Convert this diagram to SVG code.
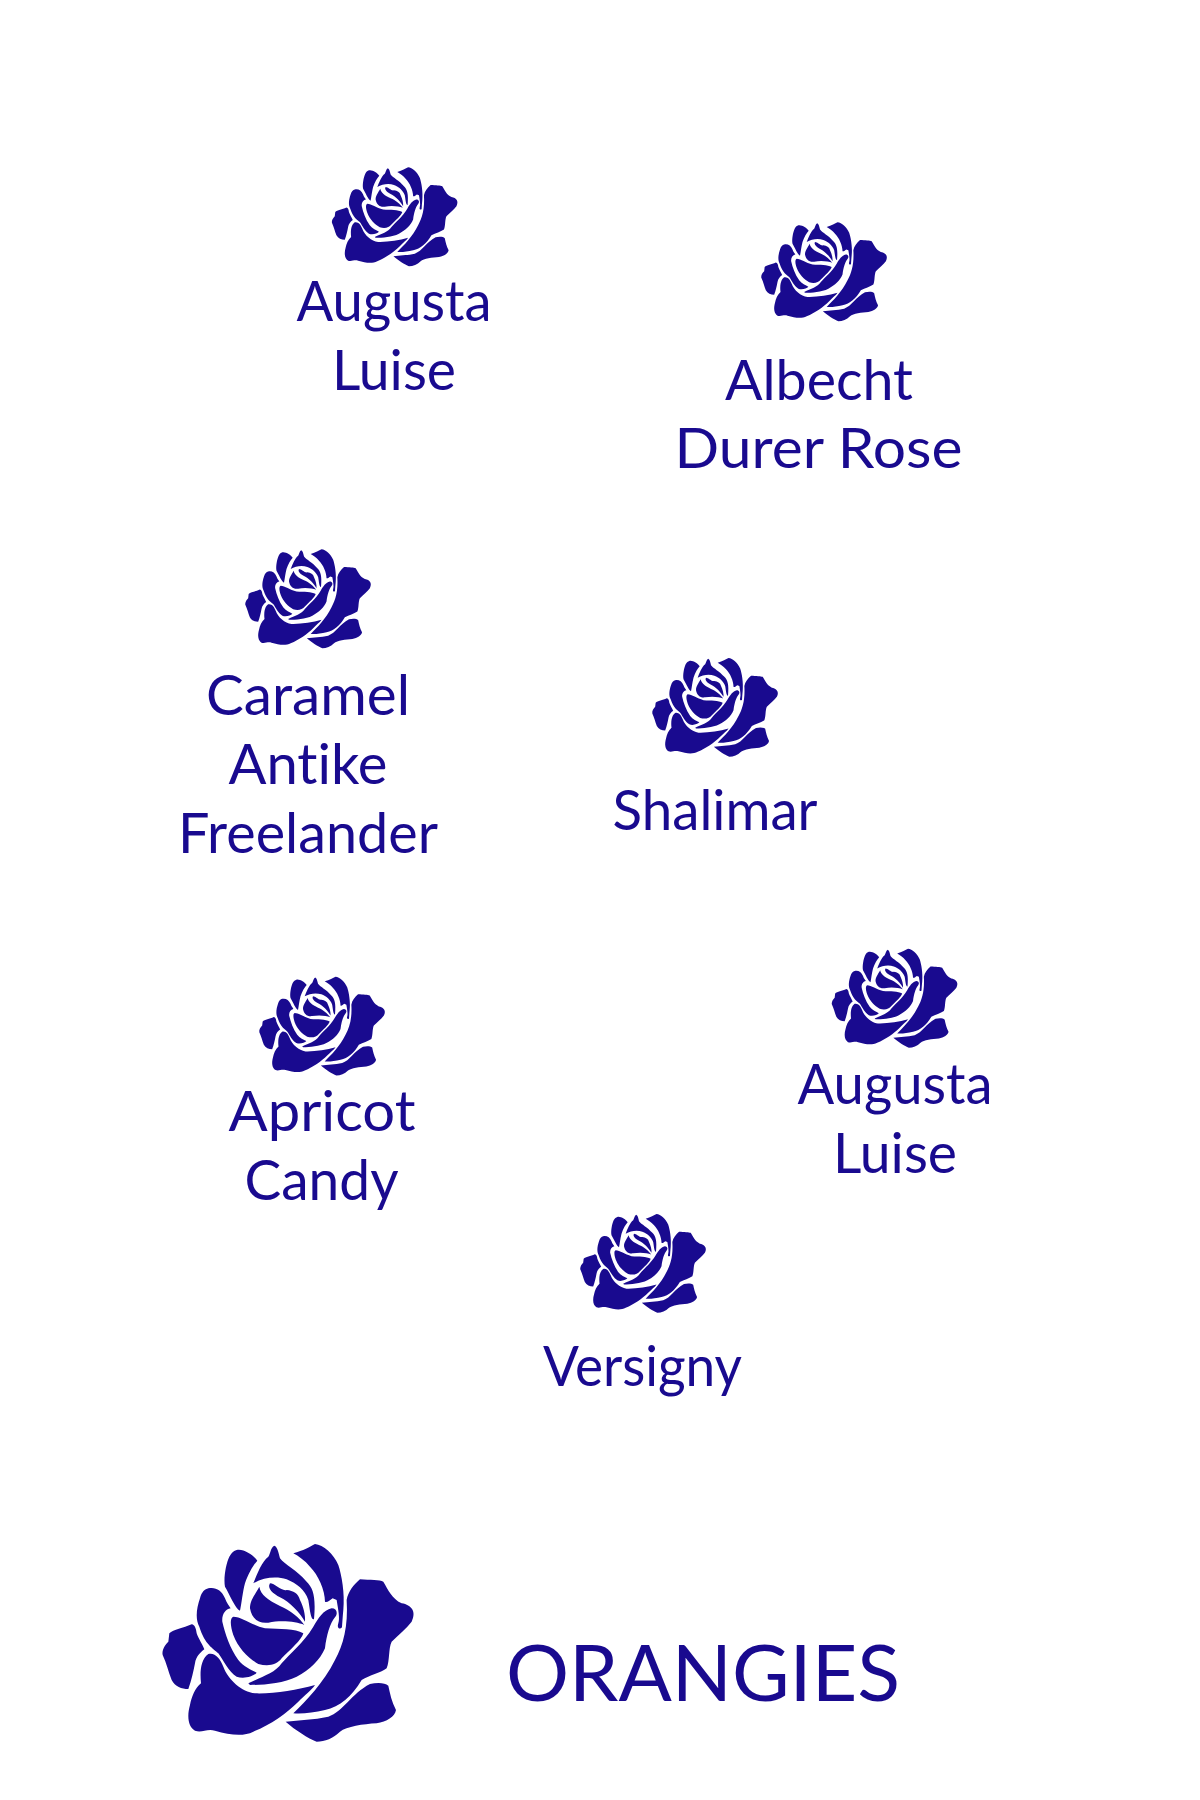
<svg xmlns="http://www.w3.org/2000/svg" width="1200" height="1800" viewBox="0 0 1200 1800">
<style>
text{font-family:"Lato","Liberation Sans",sans-serif;fill:#190a8f;text-anchor:middle;font-variant-ligatures:none}
.n{font-size:56px}
.t{font-size:77.5px}
</style>
<defs>
<g id="rose" fill="#190a8f">
<path d="M88,340C100,328 130,325 155,313C165,315 168,325 170,340C175,355 188,375 193,388C180,398 168,410 165,430C160,455 155,480 145,507C125,507 105,500 95,480C85,455 80,430 68,405C65,390 75,375 85,365Z"/>
<path d="M205,205C225,200 245,210 255,235C260,250 268,258 272,265C255,268 245,285 247,305C255,340 270,385 295,420C310,440 335,450 350,458C340,470 310,478 290,470C265,455 250,420 235,400C220,385 195,375 178,320C165,295 170,265 180,235C185,215 195,208 205,205Z"/>
<path d="M290,90C310,85 340,105 352,122C340,135 325,160 315,190C308,215 305,250 300,272C285,265 270,225 255,200C250,175 258,130 268,110C275,98 282,92 290,90Z"/>
<path d="M403,77C412,80 415,95 420,115C435,135 470,150 500,185C520,205 528,230 522,298C512,300 510,270 505,240C495,210 470,190 440,178C410,168 370,172 340,190C350,165 365,125 385,110C392,100 392,82 403,77Z"/>
<path d="M460,100C490,92 510,80 525,72C550,75 580,100 595,135C605,165 615,220 610,270C608,290 607,310 606,322C600,330 590,325 595,310C600,295 595,270 590,240L578,235C570,240 560,250 555,245C555,210 535,165 510,140C495,122 475,108 460,100Z"/>
<path d="M358,200C362,225 385,240 420,258C450,270 480,295 493,315C470,305 425,300 385,308C355,312 335,295 330,265C330,240 345,225 358,200Z"/>
<path d="M390,190C405,190 425,215 440,210C460,212 475,220 480,240C490,260 497,285 495,305C480,280 450,245 420,232C400,222 380,205 390,190Z"/>
<path d="M280,290C305,290 335,315 375,325C420,328 465,325 490,340C485,360 450,390 425,415C410,435 385,440 355,432C325,415 295,385 280,345C272,320 268,295 280,290Z"/>
<path d="M325,490C365,470 405,460 425,430C450,400 490,370 520,320C535,295 550,270 575,265C590,265 595,280 585,292C570,310 560,345 555,385C540,420 510,450 470,470C430,490 370,495 330,495Z"/>
<path d="M205,402C225,397 240,415 250,440C265,480 305,515 345,520C400,522 470,510 525,495C515,510 495,525 475,545C440,580 390,615 340,635C310,650 270,645 225,632C200,625 185,640 165,632C145,620 140,590 150,555C155,530 165,505 183,490C180,460 180,420 205,402Z"/>
<path d="M660,178C690,180 720,180 730,185C745,210 755,235 785,250C815,255 830,275 815,305C800,325 775,345 755,365C745,385 750,420 740,445C720,460 690,465 665,480C635,530 600,560 555,570C520,578 490,582 460,580C500,540 550,490 585,420C610,375 625,320 620,240C625,215 640,195 660,178Z"/>
<path d="M690,492C710,487 735,487 745,497C750,520 755,545 768,570C765,590 740,605 710,610C670,612 620,620 600,635C580,655 555,665 530,665C505,655 465,630 437,605C480,600 520,600 565,590C610,575 635,520 690,492Z"/>
</g>
</defs>
<rect width="1200" height="1800" fill="#fff"/>
<g id="connectors"/>
<g id="node-augusta-luise-1"><use href="#rose" transform="translate(320.6 155.3) scale(.1667)"/><text class="n" x="394" y="320.5" textLength="195" lengthAdjust="spacingAndGlyphs">Augusta</text><text class="n" x="394" y="389.5" textLength="124" lengthAdjust="spacingAndGlyphs">Luise</text></g>
<g id="node-albecht"><use href="#rose" transform="translate(750 210.3) scale(.1667)"/><text class="n" x="819" y="399.5" textLength="188" lengthAdjust="spacingAndGlyphs">Albecht</text><text class="n" x="818.5" y="468" textLength="288" lengthAdjust="spacingAndGlyphs">Durer Rose</text></g>
<g id="node-caramel"><use href="#rose" transform="translate(234 537.3) scale(.1667)"/><text class="n" x="308" y="715" textLength="204" lengthAdjust="spacingAndGlyphs">Caramel</text><text class="n" x="308" y="784" textLength="159" lengthAdjust="spacingAndGlyphs">Antike</text><text class="n" x="308" y="853" textLength="260" lengthAdjust="spacingAndGlyphs">Freelander</text></g>
<g id="node-shalimar"><use href="#rose" transform="translate(641 646) scale(.1667)"/><text class="n" x="715" y="830" textLength="205" lengthAdjust="spacingAndGlyphs">Shalimar</text></g>
<g id="node-apricot"><use href="#rose" transform="translate(248 964.7) scale(.1667)"/><text class="n" x="322" y="1131" textLength="187" lengthAdjust="spacingAndGlyphs">Apricot</text><text class="n" x="321.5" y="1200" textLength="154" lengthAdjust="spacingAndGlyphs">Candy</text></g>
<g id="node-augusta-luise-2"><use href="#rose" transform="translate(820.5 936.8) scale(.1667)"/><text class="n" x="895" y="1104" textLength="195" lengthAdjust="spacingAndGlyphs">Augusta</text><text class="n" x="895" y="1173" textLength="124" lengthAdjust="spacingAndGlyphs">Luise</text></g>
<g id="node-versigny"><use href="#rose" transform="translate(569 1202) scale(.1667)"/><text class="n" x="642.5" y="1386" textLength="199" lengthAdjust="spacingAndGlyphs">Versigny</text></g>
<g id="node-orangies"><use href="#rose" transform="translate(140 1520) scale(.3333)"/><text class="t" x="703" y="1700.5" textLength="394" lengthAdjust="spacingAndGlyphs">ORANGIES</text></g>
</svg>
